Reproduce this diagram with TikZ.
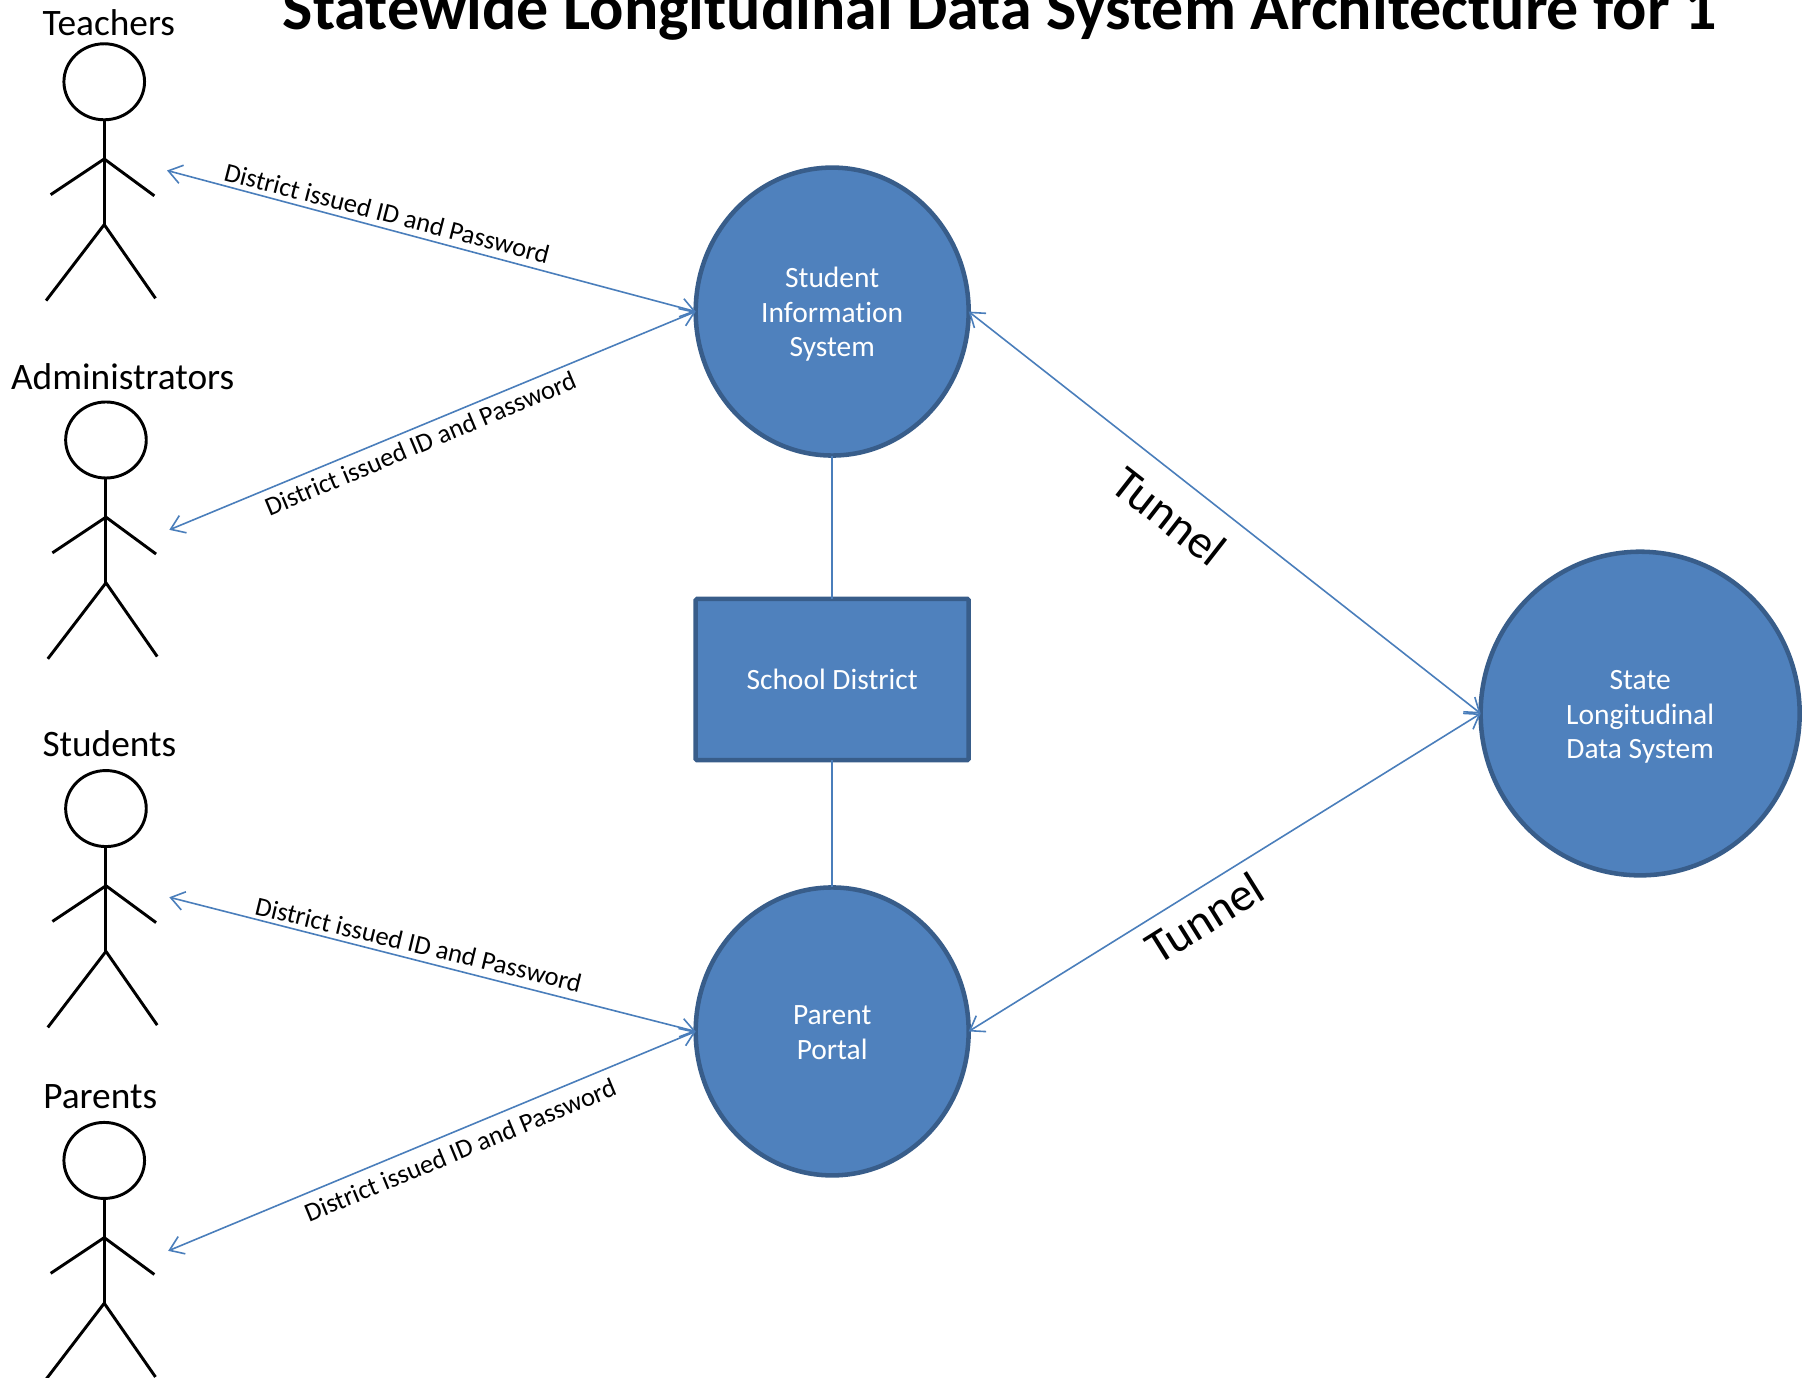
\documentclass[tikz,border=0pt]{standalone}
\usepackage{fontspec}
\setmainfont[Ligatures=NoCommon]{Carlito}
\usetikzlibrary{shapes.geometric,arrows.meta}
\newcommand{\fs}[1]{\fontsize{#1}{26pt}\selectfont}
\newcommand{\lowtext}[1]{\raisebox{0pt}[\dimexpr\height+5.4pt\relax][\depth]{\begin{tabular}{@{}c@{}}#1\end{tabular}}}
\definecolor{fillblue}{HTML}{4F81BD}
\definecolor{edgeblue}{HTML}{385D8A}
\definecolor{lineblue}{HTML}{4A7EBB}
\tikzset{
  sysellipse/.style={ellipse,draw=edgeblue,fill=fillblue,line width=3.4pt,inner sep=0pt,outer sep=0pt,text=white,font=\fs{22.1}},
  sysbox/.style={rectangle,draw=edgeblue,fill=fillblue,line width=3.4pt,rounded corners=1pt,inner sep=0pt,outer sep=0pt,text=white,align=center,font=\fs{22.1},minimum width=237*0.86385pt,minimum height=140*0.86385pt},
  link/.style={draw=lineblue,line width=1.2pt},
  duplex/.style={link,{Straight Barb[length=10pt,width=14pt,line width=1.2pt]}-{Straight Barb[length=10pt,width=14pt,line width=1.2pt]}},
  idlabel/.style={font=\fs{19.9},inner sep=0pt},
  tunnellabel/.style={font=\fs{35.5},inner sep=0pt},
  actorlabel/.style={font=\fs{28},inner sep=0pt,anchor=center},
  actorhead/.style={ellipse,draw=black,line width=2.2pt,inner sep=0pt,outer sep=0pt,minimum width=70*0.86385pt,minimum height=66*0.86385pt},
  actorline/.style={draw=black,line width=2.2pt},
  pics/actor/.style={code={
    \node[actorhead] (-head) at (0,0) {};
    \coordinate (-arm) at (0,67);
    \coordinate (-hip) at (0,124);
    \coordinate (-lhand) at (-46.5,98);
    \coordinate (-rhand) at (43.5,99);
    \coordinate (-lfoot) at (-50.5,190);
    \coordinate (-rfoot) at (44.5,188);
    \draw[actorline] (-head.south) -- (-hip);
    \draw[actorline] (-lhand) -- (-arm) -- (-rhand);
    \draw[actorline] (-lfoot) -- (-hip) -- (-rfoot);
  }}
}
\begin{document}
\begin{tikzpicture}[x=0.86385pt,y=-0.86385pt]
\path[use as bounding box] (0,0) rectangle (1568,1196);
\clip (0,0) rectangle (1568,1196);
\node[font=\bfseries\fs{48},inner sep=0pt,anchor=base] (title) at (868,25.5) {Statewide Longitudinal Data System Architecture for 1};

\pic (teacher) at (90.5,71) {actor};
\pic (admin) at (92,382) {actor};
\pic (student) at (92,702) {actor};
\pic (parent) at (90.5,1007.5) {actor};

\node[actorlabel] (lteacher) at (94.5,20) {Teachers};
\node[actorlabel] (ladmin) at (106.5,327) {Administrators};
\node[actorlabel] (lstudent) at (95,646) {Students};
\node[actorlabel] (lparent) at (87,952) {Parents};

\node[sysellipse,minimum width=237*0.86385pt,minimum height=250*0.86385pt] (sis) at (722.5,270.5) {\lowtext{Student\\Information\\System}};
\node[sysbox] (district) at (722.5,590) {School District};
\node[sysellipse,minimum width=237*0.86385pt,minimum height=250*0.86385pt] (portal) at (722.5,895.5) {\lowtext{Parent\\Portal}};
\node[sysellipse,minimum width=277*0.86385pt,minimum height=281*0.86385pt] (state) at (1424,619.5) {\lowtext{State\\Longitudinal\\Data System}};

\coordinate (tend) at (145,148);
\coordinate (aend) at (147,460);
\coordinate (send) at (147,779);
\coordinate (pend) at (146,1086);

\draw[duplex] (tend) -- (sis.west);
\draw[duplex] (aend) -- (sis.west);
\draw[duplex] (send) -- (portal.west);
\draw[duplex] (pend) -- (portal.west);
\draw[duplex] (sis.east) -- (state.west);
\draw[duplex] (portal.east) -- (state.west);
\draw[link] (sis.south) -- (district.north);
\draw[link] (district.south) -- (portal.north);

\node[idlabel,rotate=-14.5] (id1) at (336,185) {District issued ID and Password};
\node[idlabel,rotate=22.7] (id2) at (365,385) {District issued ID and Password};
\node[idlabel,rotate=-13.5] (id3) at (363.5,820) {District issued ID and Password};
\node[idlabel,rotate=22.5] (id4) at (399.5,998.5) {District issued ID and Password};
\node[tunnellabel,rotate=-38] (tun1) at (1015.5,448) {Tunnel};
\node[tunnellabel,rotate=32] (tun2) at (1046,797) {Tunnel};
\end{tikzpicture}
\end{document}
